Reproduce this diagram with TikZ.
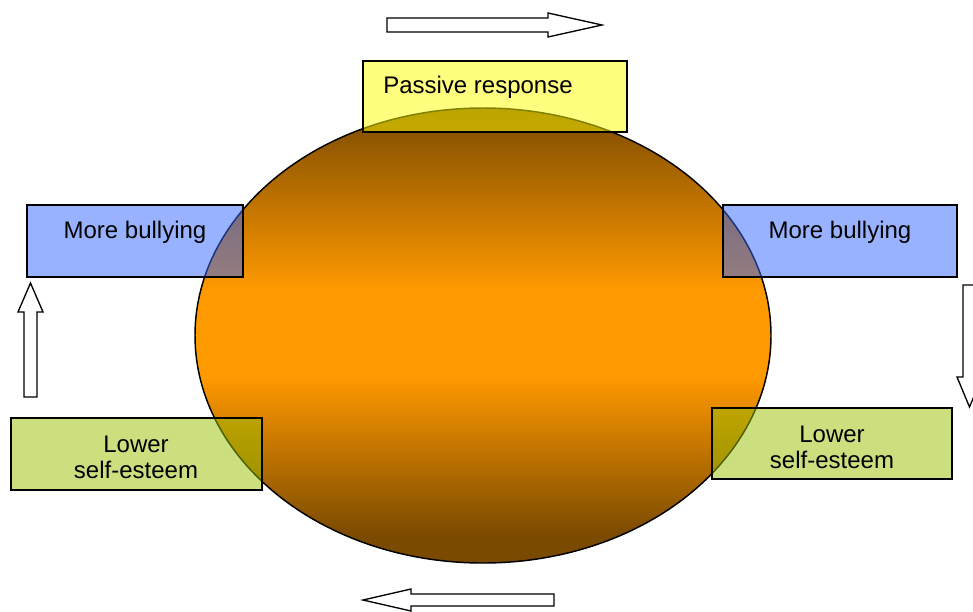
\documentclass[tikz,border=0pt]{standalone}
\usepackage{fontspec}
\setmainfont{Liberation Sans}
\usetikzlibrary{shapes.geometric}

\definecolor{ringdark}{RGB}{122,74,0}
\definecolor{ringorange}{RGB}{255,153,0}
\definecolor{boxyellow}{RGB}{255,255,0}
\definecolor{boxblue}{RGB}{51,102,255}
\definecolor{boxgreen}{RGB}{153,192,0}

% dark rim at top and bottom, bright orange band through the middle
\pgfdeclareverticalshading{ringshade}{100bp}{%
  color(0bp)=(ringdark); color(28bp)=(ringdark);
  color(45.5bp)=(ringorange); color(55bp)=(ringorange);
  color(75bp)=(ringdark); color(100bp)=(ringdark)}

\tikzset{
  stagebox/.style={draw=black, line width=1.2pt, fill opacity=0.5,
    draw opacity=1, inner sep=0pt, rectangle},
  stagetext/.style={font=\fontsize{18pt}{21pt}\selectfont, inner sep=0pt,
    anchor=base, text=black},
  blockarrow/.style={draw=black, fill=white, line width=1pt, line join=miter}
}

\begin{document}
\begin{tikzpicture}[x=0.75pt, y=-0.75pt]
  \useasboundingbox (0,0) rectangle (973,611);
  \clip (0,0) rectangle (973,611);

  % central cycle
  \node[ellipse, draw=black, line width=1.1pt, shade, shading=ringshade,
        minimum width=432pt, minimum height=341.25pt, inner sep=0pt]
        (cycle) at (483,335.5) {};

  % stages of the cycle
  \node[stagebox, fill=boxyellow, minimum width=198pt, minimum height=53.25pt]
        (passive) at (495,96.5) {};
  \node[stagebox, fill=boxblue, minimum width=175.5pt, minimum height=54pt]
        (bullyR) at (840,241) {};
  \node[stagebox, fill=boxgreen, minimum width=180pt, minimum height=53.25pt]
        (esteemR) at (832,443.5) {};
  \node[stagebox, fill=boxgreen, minimum width=188.25pt, minimum height=54pt]
        (esteemL) at (136.5,454) {};
  \node[stagebox, fill=boxblue, minimum width=162pt, minimum height=54pt]
        (bullyL) at (135,241) {};

  % labels
  \node[stagetext, anchor=base west] (passivetxt) at (383,93) {Passive response};
  \node[stagetext] (bullyRtxt) at (840,238) {More bullying};
  \node[stagetext] (esteemRtxt1) at (832,442) {Lower};
  \node[stagetext] (esteemRtxt2) at (832,468) {self-esteem};
  \node[stagetext] (esteemLtxt1) at (136,452) {Lower};
  \node[stagetext] (esteemLtxt2) at (136,478) {self-esteem};
  \node[stagetext] (bullyLtxt) at (135,238) {More bullying};

  % hollow block arrows showing the direction of the cycle
  \draw[blockarrow] (387,18) -- (548,18) -- (548,13) -- (602,25)
        -- (548,37) -- (548,32) -- (387,32) -- cycle;
  \draw[blockarrow] (963,285) -- (976,285) -- (976,377) -- (982,377)
        -- (969.5,407) -- (957,377) -- (963,377) -- cycle;
  \draw[blockarrow] (554,594) -- (411,594) -- (411,589) -- (363,600)
        -- (411,611) -- (411,606) -- (554,606) -- cycle;
  \draw[blockarrow] (24,397) -- (24,312) -- (18,312) -- (30.5,283)
        -- (43,312) -- (37,312) -- (37,397) -- cycle;
\end{tikzpicture}
\end{document}
